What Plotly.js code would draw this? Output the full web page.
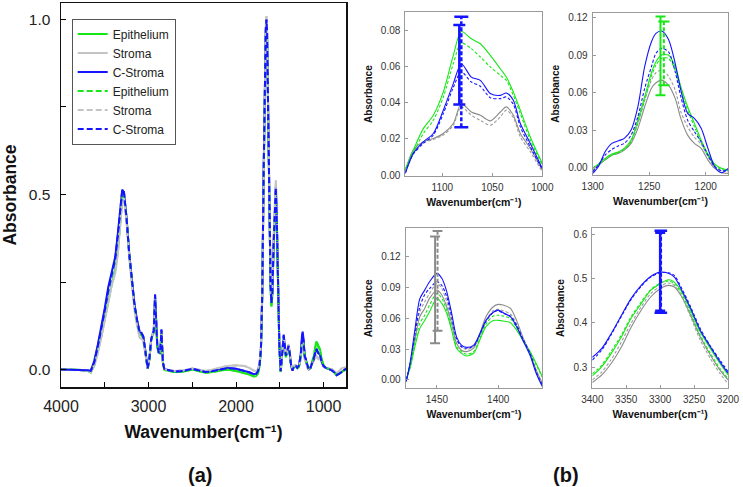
<!DOCTYPE html>
<html>
<head>
<meta charset="utf-8">
<script src="https://cdn.plot.ly/plotly-3.0.1.min.js"></script>
<style>html,body{margin:0;padding:0;background:#fff}#chart{width:743px;height:487px}</style>
</head>
<body>
<div id="chart"></div>
<script>
// ---------- (a) full spectra ----------
const wnMain = [4000,3900,3800,3700,3660,3620,3580,3540,3500,3460,3420,3380,3350,3320,3300,3280,3250,3220,3190,3160,3130,3100,3080,3060,3040,3020,3010,2990,2970,2955,2940,2925,2915,2900,2885,2870,2860,2852,2845,2835,2820,2800,2700,2600,2500,2400,2350,2300,2200,2100,2000,1900,1850,1800,1770,1750,1730,1715,1700,1685,1670,1660,1652,1645,1635,1620,1605,1595,1585,1570,1555,1545,1535,1520,1505,1490,1480,1470,1455,1445,1430,1415,1400,1385,1370,1355,1340,1320,1300,1280,1260,1245,1238,1230,1215,1200,1185,1170,1150,1130,1110,1095,1082,1070,1055,1040,1025,1000,970,940,900,870,850,820,790,760,740];
const epiSolid = [0.0,0.0,-0.001,-0.003,-0.008,0.012,0.05,0.095,0.145,0.2,0.245,0.285,0.34,0.43,0.488,0.495,0.43,0.33,0.255,0.18,0.135,0.1,0.1,0.09,0.058,0.014,0.002,0.028,0.082,0.097,0.105,0.2,0.14,0.066,0.048,0.046,0.07,0.105,0.065,0.018,0.0,-0.002,-0.007,-0.006,0.0,-0.006,-0.009,-0.008,-0.005,0.0,-0.004,-0.01,-0.014,-0.02,-0.019,-0.012,0.01,0.055,0.21,0.54,0.84,0.96,0.99,0.95,0.77,0.47,0.23,0.18,0.21,0.35,0.48,0.505,0.43,0.23,0.065,-0.006,0.015,0.055,0.082,0.065,0.035,0.045,0.058,0.042,0.012,0.0,0.008,0.01,0.004,0.008,0.035,0.085,0.092,0.082,0.038,0.025,0.008,0.001,0.006,0.025,0.04,0.065,0.08,0.075,0.066,0.058,0.035,0.012,0.004,0.002,-0.003,-0.01,-0.015,-0.012,-0.006,-0.001,0.002];
const stromaSolid = [0.0,0.0,-0.001,-0.003,-0.008,0.01,0.045,0.09,0.14,0.195,0.24,0.275,0.33,0.42,0.478,0.485,0.42,0.32,0.245,0.17,0.125,0.09,0.088,0.082,0.052,0.012,0.002,0.03,0.085,0.1,0.108,0.205,0.145,0.07,0.05,0.048,0.072,0.11,0.068,0.02,0.002,0.0,-0.004,-0.002,0.003,-0.002,-0.004,-0.002,0.003,0.01,0.012,0.01,0.005,-0.003,-0.004,0.0,0.02,0.07,0.23,0.56,0.86,0.98,1.01,0.97,0.79,0.5,0.26,0.2,0.23,0.38,0.51,0.54,0.46,0.25,0.075,0.0,0.02,0.06,0.088,0.07,0.04,0.055,0.073,0.05,0.015,0.002,0.01,0.012,0.006,0.01,0.03,0.065,0.07,0.062,0.028,0.02,0.005,0.0,0.005,0.018,0.025,0.035,0.04,0.035,0.03,0.038,0.022,0.008,0.004,0.003,0.0,-0.006,-0.01,-0.004,0.004,0.006,0.005];
const cstromaSolid = [0.000,0.000,-0.001,-0.002,-0.004,0.025,0.07,0.12,0.175,0.235,0.275,0.322,0.39,0.478,0.514,0.505,0.43,0.33,0.26,0.185,0.14,0.105,0.105,0.095,0.06,0.015,0.003,0.03,0.085,0.1,0.11,0.215,0.15,0.07,0.05,0.048,0.075,0.115,0.07,0.02,0.002,0.0,-0.006,-0.004,0.002,-0.004,-0.007,-0.006,-0.002,0.004,0.002,-0.004,-0.008,-0.013,-0.012,-0.006,0.015,0.06,0.22,0.55,0.85,0.97,1.0,0.96,0.78,0.48,0.24,0.19,0.22,0.36,0.49,0.52,0.44,0.24,0.07,-0.005,0.02,0.065,0.1,0.075,0.04,0.05,0.068,0.045,0.01,-0.003,0.008,0.012,0.005,0.012,0.045,0.1,0.108,0.09,0.04,0.028,0.008,0.0,0.004,0.018,0.03,0.048,0.06,0.054,0.045,0.045,0.025,0.01,0.004,0.002,-0.003,-0.01,-0.016,-0.012,-0.006,-0.001,0.003];
const epiDash = [0.0,0.0,-0.001,-0.003,-0.008,0.014,0.052,0.097,0.148,0.203,0.248,0.29,0.345,0.435,0.492,0.497,0.43,0.33,0.255,0.18,0.135,0.1,0.1,0.09,0.058,0.014,0.002,0.028,0.082,0.097,0.105,0.2,0.14,0.066,0.048,0.046,0.07,0.105,0.065,0.018,0.0,-0.002,-0.007,-0.006,0.0,-0.006,-0.009,-0.008,-0.005,0.0,-0.004,-0.01,-0.014,-0.019,-0.018,-0.011,0.01,0.055,0.21,0.54,0.84,0.96,0.99,0.95,0.77,0.47,0.23,0.18,0.21,0.35,0.48,0.505,0.43,0.23,0.065,-0.006,0.015,0.055,0.085,0.066,0.036,0.046,0.063,0.044,0.012,0.0,0.008,0.01,0.004,0.008,0.034,0.082,0.088,0.079,0.037,0.025,0.008,0.001,0.006,0.024,0.038,0.06,0.073,0.07,0.062,0.054,0.033,0.012,0.004,0.002,-0.003,-0.01,-0.015,-0.012,-0.006,-0.001,0.002];
const stromaDash = [0.0,0.0,-0.001,-0.003,-0.008,0.012,0.047,0.092,0.142,0.198,0.243,0.28,0.336,0.425,0.485,0.49,0.42,0.32,0.245,0.17,0.125,0.09,0.088,0.082,0.052,0.012,0.002,0.03,0.085,0.1,0.108,0.205,0.145,0.07,0.05,0.048,0.072,0.11,0.068,0.02,0.002,0.0,-0.004,-0.002,0.003,-0.002,-0.004,-0.002,0.003,0.01,0.012,0.01,0.005,-0.003,-0.004,0.0,0.02,0.07,0.23,0.56,0.86,0.98,1.01,0.97,0.79,0.5,0.26,0.2,0.23,0.38,0.51,0.54,0.46,0.25,0.075,0.0,0.02,0.06,0.094,0.072,0.04,0.054,0.068,0.048,0.015,0.002,0.01,0.012,0.006,0.01,0.032,0.072,0.078,0.07,0.03,0.021,0.005,0.0,0.005,0.018,0.025,0.034,0.037,0.032,0.028,0.036,0.021,0.008,0.004,0.003,0.0,-0.006,-0.01,-0.004,0.004,0.006,0.005];
const cstromaDash = [0.000,0.000,-0.001,-0.002,-0.004,0.02,0.065,0.113,0.168,0.225,0.268,0.316,0.385,0.472,0.513,0.507,0.43,0.33,0.26,0.185,0.14,0.105,0.103,0.094,0.06,0.015,0.003,0.03,0.085,0.1,0.11,0.212,0.15,0.07,0.05,0.048,0.075,0.113,0.07,0.02,0.002,0.0,-0.006,-0.004,0.002,-0.004,-0.007,-0.006,-0.002,0.004,0.002,-0.004,-0.008,-0.013,-0.012,-0.006,0.015,0.06,0.22,0.55,0.85,0.97,1.0,0.96,0.78,0.48,0.24,0.19,0.22,0.36,0.49,0.52,0.44,0.24,0.07,-0.005,0.02,0.065,0.096,0.073,0.04,0.05,0.067,0.045,0.01,-0.003,0.008,0.012,0.005,0.012,0.042,0.09,0.096,0.085,0.038,0.027,0.008,0.0,0.004,0.018,0.03,0.045,0.057,0.05,0.043,0.043,0.024,0.01,0.004,0.002,-0.003,-0.01,-0.016,-0.012,-0.006,-0.001,0.003];
const seriesNames = ['Epithelium','Stroma','C-Stroma'];

// ---------- (b) top-left: 1137-1000 ----------
const tlWn = [1137,1129,1119,1109,1099,1089,1081,1071,1062,1052,1042,1036,1029,1022,1012,1000];
const tlEpiSolid = [0.0028,0.0138,0.0257,0.0331,0.046,0.0662,0.0794,0.0754,0.0726,0.0662,0.0588,0.0542,0.046,0.0359,0.0211,0.0064];
const tlEpiDash = [0.0037,0.0123,0.023,0.0303,0.0432,0.0616,0.073,0.0699,0.0653,0.0598,0.0552,0.0524,0.0441,0.034,0.0193,0.0055];
const tlStrSolid = [0.0024,0.0138,0.0184,0.0202,0.023,0.0285,0.0395,0.0349,0.0331,0.03,0.0349,0.0377,0.0331,0.023,0.0147,0.0028];
const tlStrDash = [0.002,0.0129,0.0178,0.0197,0.0221,0.0276,0.0377,0.0331,0.0303,0.0276,0.0322,0.0359,0.0318,0.0211,0.0129,0.0018];
const tlCstSolid = [0.0009,0.012,0.0184,0.023,0.0359,0.0506,0.0616,0.0542,0.0524,0.0451,0.0441,0.0454,0.0414,0.0285,0.0175,0.0037];
const tlCstDash = [0.0013,0.0116,0.0175,0.0221,0.034,0.0484,0.057,0.0515,0.0491,0.0428,0.0423,0.0432,0.0392,0.0267,0.0156,0.0031];
const tlErrX = [1083,1081];
const tlErrMean = [0.061,0.057];
const tlErrSd = [0.022,0.0305];

// ---------- (b) top-right: 1300-1180 ----------
const trWn = [1300,1295,1289,1283,1277,1272,1266,1260,1254,1248,1244,1239,1233,1227,1222,1216,1210,1204,1198,1192,1186,1180];
const trEpiSolid = [0,0.0029,0.0075,0.0109,0.0128,0.0155,0.0221,0.0381,0.0568,0.076,0.0848,0.0901,0.0901,0.0808,0.0648,0.0488,0.0355,0.0221,0.0109,0.0029,-0.0005,-0.0019];
const trEpiDash = [-0.0005,0.0024,0.0067,0.0101,0.012,0.0147,0.0208,0.036,0.0541,0.0733,0.0821,0.0875,0.0875,0.0781,0.0621,0.0461,0.0328,0.02,0.0093,0.0019,-0.0013,-0.0024];
const trStrSolid = [-0.0019,0.0021,0.0061,0.0099,0.0115,0.0141,0.0195,0.0315,0.0488,0.0635,0.068,0.0701,0.0661,0.0555,0.0395,0.0261,0.0195,0.0155,0.0061,-0.0005,-0.004,-0.0045];
const trStrDash = [-0.0024,0.0016,0.0067,0.0104,0.0123,0.0149,0.0208,0.0355,0.0541,0.0701,0.076,0.0781,0.0733,0.0621,0.0448,0.0328,0.0243,0.0189,0.0088,0.0008,-0.0024,-0.0032];
const trCstSolid = [-0.0045,0.0008,0.0128,0.0195,0.0216,0.0235,0.0301,0.0488,0.0808,0.1008,0.1075,0.1093,0.1027,0.0835,0.0621,0.0435,0.0395,0.0315,0.0155,0.0008,-0.004,-0.0005];
const trCstDash = [-0.0032,0.0021,0.0101,0.0147,0.0176,0.0195,0.0261,0.0408,0.0635,0.0808,0.0915,0.0955,0.0928,0.0768,0.0568,0.0381,0.0288,0.0208,0.0101,0.0008,-0.0024,-0.0019];
const trErrX = [1240,1237];
const trErrMean = [0.0895,0.0915];
const trErrSd = [0.0315,0.0255];

// ---------- (b) bottom-left: 1475-1364 ----------
const blWn = [1475,1472,1468,1464,1460,1456,1450,1446,1442,1438,1434,1430,1426,1420,1415,1410,1404,1400,1396,1390,1385,1380,1374,1369,1364];
const blEpiSolid = [0.0016,0.011,0.0324,0.05,0.058,0.0665,0.0795,0.0746,0.065,0.0486,0.0308,0.026,0.0233,0.026,0.039,0.052,0.058,0.058,0.0574,0.0558,0.0486,0.039,0.0276,0.016,0.0032];
const blEpiDash = [0.0006,0.0123,0.0357,0.055,0.063,0.073,0.0843,0.0795,0.068,0.051,0.0324,0.0276,0.025,0.0276,0.0405,0.0545,0.0623,0.063,0.0623,0.0597,0.051,0.0396,0.0272,0.0146,0.0026];
const blStrSolid = [0.0,0.013,0.039,0.0616,0.0697,0.0795,0.0876,0.0827,0.0713,0.055,0.0357,0.029,0.0276,0.031,0.045,0.0616,0.0713,0.0736,0.073,0.0697,0.058,0.042,0.026,0.0097,-0.0032];
const blStrDash = [0.0,0.0136,0.0405,0.0665,0.076,0.0843,0.094,0.089,0.076,0.058,0.039,0.0318,0.0298,0.0324,0.0438,0.058,0.0675,0.0687,0.0675,0.064,0.0545,0.0405,0.025,0.0075,-0.0055];
const blCstSolid = [-0.0016,0.016,0.0486,0.079,0.0875,0.0957,0.1038,0.099,0.086,0.065,0.042,0.034,0.0318,0.034,0.045,0.058,0.066,0.068,0.0655,0.0616,0.052,0.039,0.024,0.0065,-0.0065];
const blCstDash = [0.0,0.0156,0.0438,0.071,0.083,0.089,0.0957,0.092,0.081,0.0616,0.0405,0.0324,0.031,0.033,0.0438,0.057,0.066,0.0675,0.065,0.062,0.0535,0.0405,0.026,0.008,-0.0049];
const blErrX = [1451.5,1449.5];
const blErrMean = [0.0877,0.0965];
const blErrSd = [0.052,0.0485];

// ---------- (b) bottom-right: 3400-3200 ----------
const brWn = [3400,3386,3372,3357,3343,3328,3314,3300,3288,3279,3268,3255,3241,3226,3212,3200];
const brEpiSolid = [0.2806,0.3015,0.3313,0.3687,0.4097,0.4433,0.4731,0.4881,0.497,0.4918,0.4694,0.4284,0.3798,0.3425,0.309,0.2828];
const brEpiDash = [0.2851,0.3052,0.3366,0.3731,0.4134,0.447,0.4746,0.4896,0.494,0.4881,0.4642,0.4224,0.3724,0.3313,0.2978,0.2754];
const brStrSolid = [0.2657,0.2828,0.309,0.3463,0.3896,0.4284,0.4582,0.4769,0.4843,0.4806,0.4582,0.4172,0.3687,0.3276,0.294,0.2716];
const brStrDash = [0.2716,0.2896,0.3179,0.3575,0.3985,0.4358,0.4657,0.4821,0.4896,0.4843,0.4582,0.4134,0.3612,0.3201,0.2866,0.2627];
const brCstSolid = [0.3224,0.3425,0.3761,0.4172,0.4545,0.4843,0.5045,0.5142,0.5119,0.503,0.4731,0.4321,0.3836,0.3463,0.3127,0.2866];
const brCstDash = [0.3164,0.3388,0.3739,0.4149,0.4522,0.4821,0.503,0.5127,0.5127,0.5067,0.4769,0.4358,0.3873,0.3478,0.3164,0.2903];
const brErrX = [3300,3299];
const brErrMean = [0.515,0.515];
const brErrSd = [0.088,0.0925];

// ---------- styles ----------
const GREEN = '#19e619', BLUE = '#1414ff', GREY_MAIN = '#c4c4c4';
const GREY_SUB = '#8a8a8a', GREY_SUB_D = '#9c9c9c';
const FONT = 'Liberation Sans, Arial, sans-serif';

const traces = [];
const mainSets = [
  [epiSolid, GREEN, 'solid'], [stromaSolid, GREY_MAIN, 'solid'], [cstromaSolid, BLUE, 'solid'],
  [epiDash, GREEN, '6px,3px'], [stromaDash, GREY_MAIN, '6px,3px'], [cstromaDash, BLUE, '6px,3px']
];
mainSets.forEach((s, i) => {
  traces.push({type:'scatter', mode:'lines', x: wnMain, y: s[0], name: seriesNames[i % 3],
    line:{color: s[1], width: 2, dash: s[2]}, xaxis:'x', yaxis:'y', hoverinfo:'skip'});
});

function subTraces(xa, ya, wn, sets) {
  sets.forEach(s => {
    traces.push({type:'scatter', mode:'lines', x: wn, y: s[0], showlegend:false,
      line:{color: s[1], width: 1.1, dash: s[2], shape:'spline', smoothing:0.8},
      xaxis: xa, yaxis: ya, hoverinfo:'skip'});
  });
}
function errBars(xa, ya, xs, means, sds, color, thick, capSolid, capDash) {
  traces.push({type:'scatter', mode:'markers', x:[xs[0]], y:[means[0]], showlegend:false,
    marker:{size:1, opacity:0}, error_y:{type:'data', array:[sds[0]], visible:true, color:color, thickness:thick, width:capSolid},
    xaxis:xa, yaxis:ya, hoverinfo:'skip'});
  traces.push({type:'scatter', mode:'lines+markers', x:[xs[1], xs[1]], y:[means[1]-sds[1], means[1]+sds[1]], showlegend:false,
    line:{color:color, width:thick, dash:'4px,2px'},
    marker:{symbol:'line-ew', size:capDash, color:color, line:{color:color, width:thick}},
    xaxis:xa, yaxis:ya, hoverinfo:'skip'});
}
const D = '3px,2px';
subTraces('x2','y2', tlWn, [[tlStrSolid,GREY_SUB,'solid'],[tlStrDash,GREY_SUB_D,D],[tlEpiSolid,GREEN,'solid'],[tlEpiDash,GREEN,D],[tlCstSolid,BLUE,'solid'],[tlCstDash,BLUE,D]]);
errBars('x2','y2', tlErrX, tlErrMean, tlErrSd, BLUE, 2.5, 6, 10);
subTraces('x3','y3', trWn, [[trStrSolid,GREY_SUB,'solid'],[trStrDash,GREY_SUB_D,D],[trEpiSolid,GREEN,'solid'],[trEpiDash,GREEN,D],[trCstSolid,BLUE,'solid'],[trCstDash,BLUE,D]]);
errBars('x3','y3', trErrX, trErrMean, trErrSd, GREEN, 2, 5, 8);
subTraces('x4','y4', blWn, [[blStrSolid,GREY_SUB,'solid'],[blStrDash,GREY_SUB_D,D],[blEpiSolid,GREEN,'solid'],[blEpiDash,GREEN,D],[blCstSolid,BLUE,'solid'],[blCstDash,BLUE,D]]);
errBars('x4','y4', blErrX, blErrMean, blErrSd, '#8a8a8a', 2, 5, 7);
subTraces('x5','y5', brWn, [[brStrSolid,GREY_SUB,'solid'],[brStrDash,GREY_SUB_D,D],[brEpiSolid,GREEN,'solid'],[brEpiDash,GREEN,D],[brCstSolid,BLUE,'solid'],[brCstDash,BLUE,D]]);
errBars('x5','y5', brErrX, brErrMean, brErrSd, BLUE, 2.5, 5, 9);

const WN_TITLE = 'Wavenumber(cm\u207B\u00B9)';
function subX(domain, range, dtick, anchor) {
  return {domain, range, anchor, dtick, tick0:0, ticks:'inside', ticklen:3, tickcolor:'#999',
    showline:true, linecolor:'#9a9a9a', linewidth:1, mirror:true, showgrid:false, zeroline:false,
    tickfont:{size:10, color:'#333'}, ticklabelstandoff:2,
    title:{text: WN_TITLE, font:{size:10.5, weight:700, color:'#111'}, standoff:6}};
}
function subY(domain, range, dtick, fmt, anchor) {
  return {domain, range, anchor, dtick, tick0:0, tickformat:fmt, ticks:'inside', ticklen:3, tickcolor:'#999',
    showline:true, linecolor:'#9a9a9a', linewidth:1, mirror:true, showgrid:false, zeroline:false,
    tickfont:{size:10, color:'#333'}, ticklabelstandoff:2,
    title:{text:'Absorbance', font:{size:10, weight:700, color:'#111'}, standoff:6}};
}

const layout = {
  width:743, height:487, margin:{l:0, r:0, t:0, b:0},
  paper_bgcolor:'#fff', plot_bgcolor:'#fff',
  font:{family: FONT, color:'#222'},
  showlegend:true,
  legend:{x:0.0965, y:0.962, xanchor:'left', yanchor:'top', bgcolor:'#fff', bordercolor:'#555', borderwidth:1,
    font:{size:12, color:'#222'}, tracegroupgap:0, itemwidth:30},
  xaxis:{domain:[0.0821,0.4657], range:[4000,743], anchor:'y', dtick:1000, tick0:0,
    ticks:'inside', ticklen:5, tickwidth:1, tickcolor:'#000',
    minor:{dtick:500, tick0:0, ticks:'inside', ticklen:5, tickcolor:'#000'},
    showline:true, linecolor:'#111', linewidth:1.5, mirror:true, showgrid:false, zeroline:false,
    tickfont:{size:16, color:'#222'}, ticklabelstandoff:4,
    title:{text: WN_TITLE, font:{size:17.5, weight:700, color:'#111'}, standoff:12}},
  yaxis:{domain:[0.2053,0.9938], range:[-0.05,1.047], anchor:'x', dtick:0.5, tick0:0, tickformat:'.1f',
    ticks:'inside', ticklen:5, tickwidth:1, tickcolor:'#000',
    minor:{dtick:0.25, tick0:0, ticks:'inside', ticklen:5, tickcolor:'#000'},
    showline:true, linecolor:'#111', linewidth:1.5, mirror:true, showgrid:false, zeroline:false,
    tickfont:{size:15.5, color:'#222'}, ticklabelstandoff:6,
    title:{text:'Absorbance', font:{size:17.5, weight:700, color:'#111'}, standoff:14}},
  xaxis2: subX([0.5455,0.7299], [1137,1000], 50, 'y2'),
  yaxis2: subY([0.6386,0.9747], [-0.0005,0.09], 0.02, '.2f', 'x2'),
  xaxis3: subX([0.7977,0.9802], [1300,1180], 50, 'y3'),
  yaxis3: subY([0.6407,0.9739], [-0.0058,0.124], 0.03, '.2f', 'x3'),
  xaxis4: subX([0.5460,0.7299], [1475.5,1364], 50, 'y4'),
  yaxis4: subY([0.2023,0.5318], [-0.0083,0.148], 0.03, '.2f', 'x4'),
  xaxis5: subX([0.7972,0.9798], [3400,3200], 50, 'y5'),
  yaxis5: subY([0.2027,0.5318], [0.2527,0.6135], 0.1, '.1f', 'x5'),
  annotations:[
    {text:'(a)', xref:'paper', yref:'paper', x:0.269, y:0.0246, xanchor:'center', yanchor:'middle', showarrow:false, font:{size:20, weight:700, color:'#111'}},
    {text:'(b)', xref:'paper', yref:'paper', x:0.762, y:0.0246, xanchor:'center', yanchor:'middle', showarrow:false, font:{size:20, weight:700, color:'#111'}}
  ]
};

Plotly.newPlot('chart', traces, layout, {displayModeBar:false, staticPlot:true});
</script>
</body>
</html>
